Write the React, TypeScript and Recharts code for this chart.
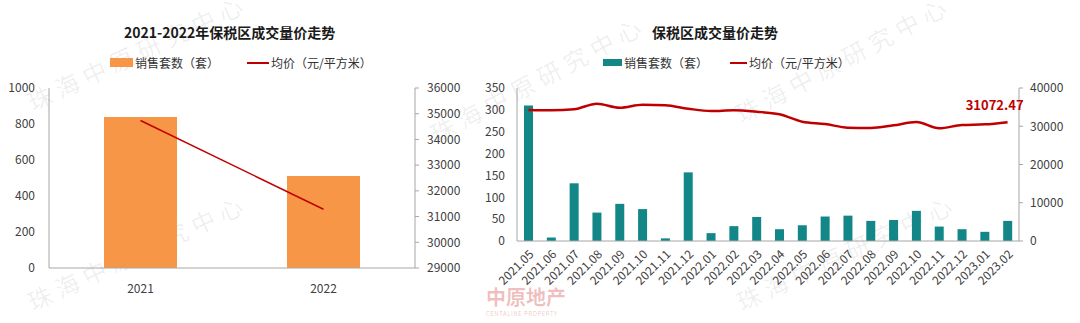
import React from 'react';
import { ComposedChart, Bar, Line, XAxis, YAxis, LabelList } from 'recharts';

// left chart: yearly
const years = ['2021', '2022'];
const yearSales = [839, 511];
const yearPrice = [34735, 31285];

// right chart: monthly
const months = [
  '2021.05', '2021.06', '2021.07', '2021.08', '2021.09', '2021.10', '2021.11', '2021.12',
  '2022.01', '2022.02', '2022.03', '2022.04', '2022.05', '2022.06', '2022.07', '2022.08',
  '2022.09', '2022.10', '2022.11', '2022.12', '2023.01', '2023.02',
];
const monthSales = [310, 8, 132, 65, 85, 73, 6, 157, 18, 34, 55, 27, 36, 56, 58, 46, 48, 69, 33, 27, 21, 46];
const monthPrice = [
  34250, 34170, 34430, 35900, 34850, 35630, 35480, 34590, 33990, 34170, 33800, 33120,
  31200, 30590, 29630, 29540, 30240, 31100, 29450, 30330, 30500, 31072.47,
];

const leftTicks = [0, 200, 400, 600, 800, 1000];
const leftRightTicks = [29000, 30000, 31000, 32000, 33000, 34000, 35000, 36000];
const rightTicks = [0, 50, 100, 150, 200, 250, 300, 350];
const rightRightTicks = [0, 10000, 20000, 30000, 40000];

const FONT = '"Noto Sans CJK SC", "Noto Sans", sans-serif';
const ORANGE = '#F79646';
const TEAL = '#138787';
const RED = '#C00000';
const AXIS = '#A6A6A6';
const TICK = { fill: '#404040', fontSize: 12, fontFamily: FONT };

const yearData = years.map((y, i) => ({ name: y, sales: yearSales[i], price: yearPrice[i] }));
const monthData = months.map((m, i) => ({ name: m, sales: monthSales[i], price: monthPrice[i] }));

const marks = [
  { x: 36, y: 118, r: -25 },
  { x: 36, y: 318, r: -25 },
  { x: 440, y: 150, r: -28 },
  { x: 745, y: 130, r: -28 },
  { x: 745, y: 318, r: -25 },
];

function LastLabel(props: any) {
  const { x, y, index } = props;
  if (index !== monthPrice.length - 1) return null;
  return (
    <text x={x + 16} y={y - 12} textAnchor="end" fill={RED} fontSize={13} fontWeight="bold" fontFamily={FONT}>
      {monthPrice[index].toFixed(2)}
    </text>
  );
}

export default function App() {
  return (
    <div style={{ position: 'absolute', left: 0, top: 0, width: 1080, height: 323, background: '#fff', overflow: 'hidden', fontFamily: FONT }}>
      {/* watermark behind everything */}
      {marks.map((m, i) => (
        <div key={i} style={{ position: 'absolute', left: m.x, top: m.y, transformOrigin: 'left bottom', transform: `translateY(-100%) rotate(${m.r}deg)`, color: 'rgba(0,0,0,0.07)', fontSize: 24, letterSpacing: 6, whiteSpace: 'nowrap', pointerEvents: 'none' }}>
          珠海中原研究中心
        </div>
      ))}
      <div style={{ position: 'absolute', left: 486, top: 287, color: 'rgba(192,0,0,0.25)', fontSize: 20, fontWeight: 'bold', whiteSpace: 'nowrap', lineHeight: '20px' }}>
        中原地产
      </div>
      <div style={{ position: 'absolute', left: 486, top: 310, color: 'rgba(192,0,0,0.25)', fontSize: 6, whiteSpace: 'nowrap', lineHeight: '8px', letterSpacing: 0.5 }}>
        CENTALINE PROPERTY
      </div>

      {/* left chart */}
      <div style={{ position: 'absolute', left: 0, top: 0 }}>
        <ComposedChart width={470} height={323} data={yearData} margin={{ top: 88, right: 5, left: 0, bottom: 0 }}>
          <XAxis dataKey="name" height={55} axisLine={{ stroke: AXIS }} tickLine={false} tick={TICK} tickMargin={10} />
          <YAxis yAxisId="l" width={49} domain={[0, 1000]} ticks={leftTicks} axisLine={{ stroke: AXIS }} tickLine={false} tick={TICK} tickMargin={8} />
          <YAxis yAxisId="r" orientation="right" width={50} domain={[29000, 36000]} ticks={leftRightTicks} axisLine={{ stroke: AXIS }} tickSize={4} tickLine={{ stroke: AXIS }} tick={TICK} tickMargin={8} />
          <Bar yAxisId="l" dataKey="sales" fill={ORANGE} barSize={73} isAnimationActive={false} />
          <Line yAxisId="r" dataKey="price" stroke={RED} strokeWidth={1.5} dot={false} isAnimationActive={false} />
        </ComposedChart>
      </div>
      <div style={{ position: 'absolute', left: 124, top: 22, fontSize: 14, fontWeight: 'bold', color: '#1a1a1a', whiteSpace: 'nowrap' }}>
        2021-2022年保税区成交量价走势
      </div>
      <div style={{ position: 'absolute', left: 110, top: 54, display: 'flex', alignItems: 'center', fontSize: 12, color: '#333', whiteSpace: 'nowrap' }}>
        <span style={{ display: 'inline-block', width: 23, height: 9, background: ORANGE, marginRight: 2 }} />
        <span>销售套数（套）</span>
        <span style={{ display: 'inline-block', width: 22, height: 2, background: RED, marginLeft: 28, marginRight: 2 }} />
        <span>均价（元/平方米）</span>
      </div>

      {/* right chart */}
      <div style={{ position: 'absolute', left: 468, top: 0 }}>
        <ComposedChart width={612} height={323} data={monthData} margin={{ top: 88, right: 11, left: 0, bottom: 0 }}>
          <XAxis dataKey="name" height={82} axisLine={{ stroke: AXIS }} tickLine={false} interval={0} angle={-45} textAnchor="end" tick={TICK} tickMargin={2} />
          <YAxis yAxisId="l" width={49} domain={[0, 350]} ticks={rightTicks} axisLine={{ stroke: AXIS }} tickLine={false} tick={TICK} tickMargin={6} />
          <YAxis yAxisId="r" orientation="right" width={50} domain={[0, 40000]} ticks={rightRightTicks} axisLine={{ stroke: AXIS }} tickSize={4} tickLine={{ stroke: AXIS }} tick={TICK} tickMargin={7} />
          <Bar yAxisId="l" dataKey="sales" fill={TEAL} barSize={9} isAnimationActive={false} />
          <Line yAxisId="r" type="monotone" dataKey="price" stroke={RED} strokeWidth={2.5} dot={false} isAnimationActive={false}>
            <LabelList dataKey="price" content={<LastLabel />} />
          </Line>
        </ComposedChart>
      </div>
      <div style={{ position: 'absolute', left: 652, top: 22, fontSize: 14, fontWeight: 'bold', color: '#1a1a1a', whiteSpace: 'nowrap' }}>
        保税区成交量价走势
      </div>
      <div style={{ position: 'absolute', left: 603, top: 54, display: 'flex', alignItems: 'center', fontSize: 12, color: '#333', whiteSpace: 'nowrap' }}>
        <span style={{ display: 'inline-block', width: 19, height: 7, background: TEAL, marginRight: 2 }} />
        <span>销售套数（套）</span>
        <span style={{ display: 'inline-block', width: 17, height: 2, background: RED, marginLeft: 22, marginRight: 2 }} />
        <span>均价（元/平方米）</span>
      </div>
    </div>
  );
}
